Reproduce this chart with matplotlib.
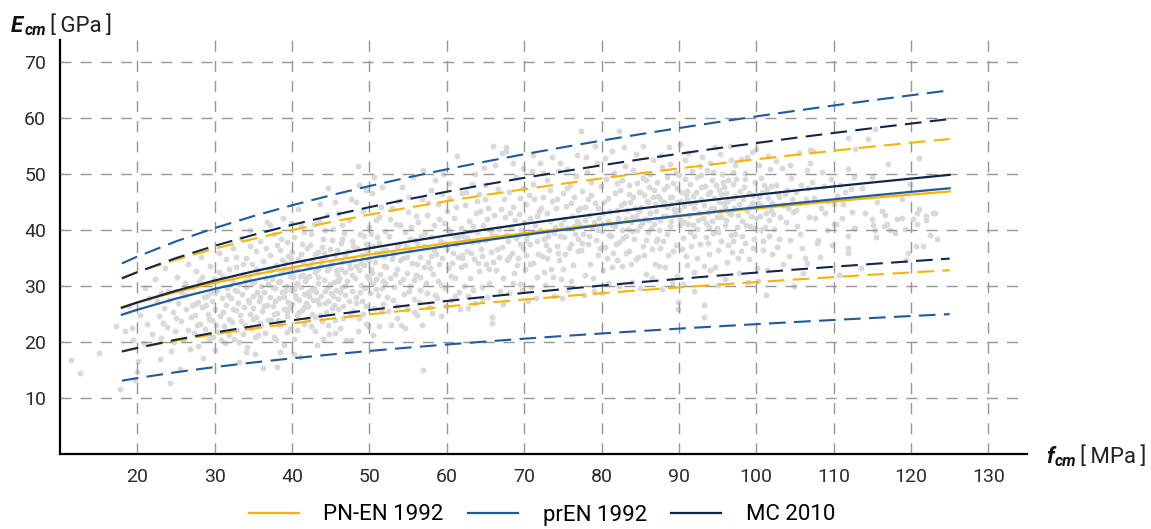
import numpy as np
import matplotlib.pyplot as plt

plt.rcParams['font.family'] = ['Roboto', 'DejaVu Sans']

# mean compressive strength at which the model curves are given [MPa]
fcm = [18, 20, 25, 30, 35, 40, 45, 50, 55, 60, 65, 70, 75, 80,
       85, 90, 95, 100, 105, 110, 115, 120, 125]

# PN-EN 1992: mean curve and scatter band [GPa]
pnen_mean = [26.24, 27.09, 28.96, 30.59, 32.04, 33.35, 34.54, 35.65, 36.69, 37.66, 38.58, 39.44,
             40.26, 41.05, 41.81, 42.53, 43.23, 43.90, 44.54, 45.17, 45.78, 46.36, 46.93]
pnen_upper = [31.49, 32.51, 34.75, 36.71, 38.45, 40.02, 41.45, 42.78, 44.03, 45.19, 46.30, 47.33,
              48.31, 49.26, 50.17, 51.04, 51.88, 52.68, 53.45, 54.20, 54.94, 55.63, 56.32]
pnen_lower = [18.37, 18.96, 20.27, 21.41, 22.43, 23.35, 24.18, 24.96, 25.68, 26.36, 27.01, 27.61,
              28.18, 28.74, 29.27, 29.77, 30.26, 30.73, 31.18, 31.62, 32.05, 32.45, 32.85]

# prEN 1992
pren_mean = [24.90, 25.79, 27.78, 29.52, 31.08, 32.49, 33.79, 35.00, 36.13, 37.19, 38.20, 39.15,
             40.06, 40.93, 41.77, 42.57, 43.35, 44.10, 44.82, 45.52, 46.20, 46.86, 47.50]
pren_upper = [34.07, 35.29, 38.01, 40.39, 42.52, 44.46, 46.24, 47.89, 49.44, 50.89, 52.27, 53.58,
              54.82, 56.02, 57.16, 58.26, 59.32, 60.34, 61.33, 62.29, 63.22, 64.12, 65.00]
pren_lower = [13.10, 13.57, 14.62, 15.54, 16.36, 17.10, 17.78, 18.42, 19.02, 19.57, 20.10, 20.61,
              21.09, 21.54, 21.98, 22.41, 22.81, 23.21, 23.59, 23.96, 24.31, 24.66, 25.00]

# MC 2010
mc_mean = [26.15, 27.09, 29.18, 31.01, 32.64, 34.13, 35.50, 36.77, 37.95, 39.07, 40.13, 41.13,
           42.08, 43.00, 43.88, 44.72, 45.54, 46.32, 47.08, 47.82, 48.53, 49.22, 49.90]
mc_upper = [31.38, 32.51, 35.02, 37.21, 39.17, 40.96, 42.60, 44.12, 45.54, 46.88, 48.16, 49.36,
            50.50, 51.60, 52.66, 53.66, 54.65, 55.58, 56.50, 57.38, 58.24, 59.06, 59.88]
mc_lower = [18.31, 18.96, 20.43, 21.71, 22.85, 23.89, 24.85, 25.74, 26.57, 27.35, 28.09, 28.79,
            29.46, 30.10, 30.72, 31.30, 31.88, 32.42, 32.96, 33.47, 33.97, 34.45, 34.93]

# test results (fcm [MPa], Ecm [GPa])
tests = [
    (11.4, 16.8), (12.6, 14.5), (15.0, 18.1), (17.2, 22.9), (17.8, 11.6),
    (18.4, 22.0), (18.9, 26.5), (19.3, 22.5), (19.7, 13.3), (20.1, 16.6), (20.0, 14.7), (20.4, 24.8),
    (20.8, 19.9), (21.2, 23.2), (21.5, 27.8), (21.9, 21.4), (22.3, 31.3), (22.5, 27.4), (21.0, 29.6),
    (19.5, 20.3),
    (22.9, 16.9), (23.6, 33.3), (24.2, 12.7), (22.8, 24.6), (23.1, 20.8), (23.4, 26.1), (23.8, 22.7),
    (24.0, 29.2), (24.4, 18.5), (24.6, 25.3), (24.9, 21.9), (25.1, 31.6), (25.3, 27.0), (25.5, 15.2),
    (25.7, 23.8), (25.9, 20.4), (26.1, 28.4), (26.3, 25.9), (26.5, 33.9), (26.6, 22.1), (26.8, 18.8),
    (27.0, 26.7), (25.0, 24.3), (24.1, 27.5), (23.3, 23.5), (26.2, 30.5), (25.6, 29.0), (24.7, 20.0),
    (26.9, 24.4), (23.0, 28.8),
    (27.2, 29.8), (27.3, 21.6), (27.5, 24.9), (27.6, 32.7), (27.8, 19.3), (27.9, 27.1), (28.1, 23.3),
    (28.2, 35.2), (28.4, 26.2), (28.5, 17.1), (28.7, 30.4), (28.8, 22.4), (29.0, 28.3), (29.1, 25.0),
    (29.3, 20.6), (29.4, 33.6), (29.6, 27.4), (29.7, 23.9), (29.9, 31.2), (30.0, 18.6), (30.1, 26.0),
    (30.3, 29.3), (30.4, 21.8), (30.6, 35.9), (30.7, 24.6), (30.9, 27.9), (31.0, 31.8), (31.2, 22.9),
    (31.3, 19.8), (31.5, 26.6), (31.6, 29.7), (31.8, 24.1), (31.9, 33.0), (28.0, 30.9), (28.6, 28.0),
    (29.2, 24.2), (29.8, 21.0), (30.5, 32.5), (31.1, 25.3), (31.7, 28.5), (27.4, 26.8), (28.3, 31.7),
    (29.5, 29.0), (30.2, 23.0), (30.8, 20.3), (31.4, 34.8), (27.7, 23.0), (28.9, 26.6), (30.0, 28.7),
    (31.9, 21.2),
    (32.1, 27.8), (32.2, 23.6), (32.3, 31.0), (32.4, 36.9), (32.5, 20.5), (32.6, 29.4), (32.7, 25.7),
    (32.8, 33.5), (32.9, 22.1), (33.0, 27.0), (33.1, 16.4), (33.2, 30.3), (33.3, 24.8), (33.4, 38.6),
    (33.5, 28.6), (33.6, 21.4), (33.7, 32.2), (33.8, 26.3), (33.9, 23.0), (34.0, 35.0), (34.1, 29.9),
    (34.2, 19.2), (34.3, 27.5), (34.4, 31.7), (34.5, 25.1), (34.6, 40.1), (34.7, 22.6), (34.8, 33.9),
    (34.9, 28.2), (35.0, 26.1), (35.1, 30.8), (35.2, 20.9), (35.3, 36.3), (35.4, 24.4), (35.5, 29.0),
    (35.6, 32.6), (35.7, 27.3), (35.8, 23.5), (35.9, 38.0), (36.0, 30.0), (36.1, 25.6), (36.2, 15.3),
    (36.3, 34.5), (36.4, 28.9), (36.5, 21.7), (36.6, 31.4), (36.7, 26.7), (36.8, 41.5), (36.9, 24.0),
    (37.0, 33.1), (32.4, 26.0), (32.9, 29.1), (33.4, 23.7), (33.9, 31.0), (34.4, 27.1), (34.9, 24.2),
    (35.4, 33.0), (35.9, 28.0), (36.4, 26.4), (36.9, 30.3), (32.7, 35.3), (33.6, 34.0), (34.5, 37.2),
    (35.6, 21.2), (36.6, 36.8), (34.1, 18.3), (35.2, 17.9), (33.2, 20.0), (36.0, 23.1), (34.8, 30.5),
    (37.1, 28.1), (37.2, 35.6), (37.3, 23.9), (37.4, 31.2), (37.5, 26.5), (37.6, 39.3), (37.7, 21.0),
    (37.8, 29.6), (37.9, 33.8), (38.0, 25.2), (38.1, 15.6), (38.2, 30.7), (38.3, 27.8), (38.4, 36.5),
    (38.5, 23.1), (38.6, 32.4), (38.7, 28.9), (38.8, 42.1), (38.9, 26.0), (39.0, 19.5), (39.1, 34.1),
    (39.2, 30.0), (39.3, 24.6), (39.4, 37.9), (39.5, 27.2), (39.6, 32.9), (39.7, 22.4), (39.8, 29.3),
    (39.9, 35.0), (40.0, 26.8), (40.1, 31.6), (40.2, 20.6), (40.3, 38.7), (40.4, 28.4), (40.5, 33.3),
    (40.6, 24.9), (40.7, 30.5), (40.8, 43.8), (40.9, 27.6), (41.0, 17.4), (41.1, 35.8), (41.2, 29.8),
    (41.3, 25.7), (41.4, 32.0), (41.5, 39.6), (41.6, 23.3), (41.7, 30.9), (41.8, 27.0), (41.9, 36.9),
    (42.0, 33.6), (37.3, 32.8), (37.8, 27.3), (38.2, 24.0), (38.7, 34.7), (39.1, 29.1), (39.6, 26.1),
    (40.0, 36.1), (40.5, 30.2), (40.9, 25.4), (41.4, 34.3), (41.8, 31.3), (37.5, 29.9), (38.0, 33.2),
    (38.5, 31.0), (39.0, 28.0), (39.5, 35.4), (40.0, 32.4), (40.5, 27.9), (41.0, 31.9), (41.5, 28.6),
    (37.2, 41.0), (38.6, 38.5), (39.8, 41.3), (41.2, 40.8), (37.9, 20.4), (39.3, 21.8), (40.7, 22.1),
    (41.9, 24.2), (38.4, 18.3), (40.2, 17.8), (39.7, 31.9), (38.9, 33.0), (40.3, 29.5), (41.6, 26.3),
    (37.6, 25.0), (38.1, 37.4), (39.4, 25.5), (40.8, 34.8), (41.3, 37.6), (42.0, 29.0),
    (42.1, 26.4), (42.2, 31.8), (42.3, 37.3), (42.4, 22.9), (42.5, 29.4), (42.6, 34.6), (42.7, 27.5),
    (42.8, 41.2), (42.9, 24.5), (43.0, 32.5), (43.1, 29.0), (43.2, 19.4), (43.3, 36.1), (43.4, 30.6),
    (43.5, 26.9), (43.6, 44.6), (43.7, 33.7), (43.8, 28.2), (43.9, 23.8), (44.0, 38.4), (44.1, 31.1),
    (44.2, 27.0), (44.3, 35.2), (44.4, 25.3), (44.5, 32.8), (44.6, 47.5), (44.7, 29.9), (44.8, 21.4),
    (44.9, 36.7), (45.0, 28.7), (45.1, 33.9), (45.2, 26.1), (45.3, 40.3), (45.4, 30.8), (45.5, 24.0),
    (45.6, 35.6), (45.7, 29.3), (45.8, 32.2), (45.9, 27.7), (46.0, 43.0), (46.1, 31.4), (46.2, 22.6),
    (46.3, 37.8), (46.4, 29.8), (46.5, 34.4), (46.6, 26.5), (46.7, 39.5), (46.8, 32.6), (46.9, 28.4),
    (47.0, 20.4), (42.3, 33.4), (42.8, 29.7), (43.3, 31.7), (43.8, 34.9), (44.3, 29.2), (44.8, 33.2),
    (45.3, 28.3), (45.8, 36.4), (46.3, 33.0), (46.8, 30.1), (42.5, 39.3), (43.5, 41.6), (44.5, 42.8),
    (45.5, 45.0), (46.5, 41.0), (42.6, 25.0), (43.6, 24.9), (44.6, 23.1), (45.6, 21.6), (46.6, 24.3),
    (42.9, 35.8), (43.9, 37.0), (44.9, 30.4), (45.9, 30.9), (46.9, 35.5), (42.2, 28.2), (43.2, 27.6),
    (44.2, 40.0), (45.2, 38.2), (46.2, 28.9), (44.0, 20.6), (45.0, 34.3), (46.0, 26.0), (43.4, 33.0),
    (44.7, 27.4), (45.7, 32.9), (46.4, 38.5), (43.0, 22.0), (44.1, 35.9), (45.4, 26.6),
    (47.1, 30.9), (47.2, 36.2), (47.3, 27.4), (47.4, 41.8), (47.5, 33.3), (47.6, 20.4), (47.7, 29.1),
    (47.8, 38.0), (47.9, 25.6), (48.0, 34.8), (48.1, 31.5), (48.2, 45.1), (48.3, 28.0), (48.4, 36.9),
    (48.5, 51.4), (48.6, 32.9), (48.7, 24.3), (48.8, 39.4), (48.9, 30.2), (49.0, 35.5), (49.1, 27.3),
    (49.2, 43.4), (49.3, 33.8), (49.4, 29.6), (49.5, 37.6), (49.6, 23.2), (49.7, 31.9), (49.8, 22.8),
    (49.9, 40.6), (50.0, 35.1), (50.1, 28.8), (50.2, 33.0), (50.3, 46.7), (50.4, 30.6), (50.5, 37.1),
    (50.6, 26.1), (50.7, 34.3), (50.8, 41.9), (50.9, 31.2), (51.0, 38.7), (51.1, 28.4), (51.2, 35.9),
    (51.3, 22.8), (51.4, 32.1), (51.5, 44.2), (51.6, 29.7), (51.7, 36.4), (51.8, 26.9), (51.9, 33.6),
    (52.0, 39.8), (47.3, 34.0), (47.8, 32.0), (48.3, 33.6), (48.8, 28.9), (49.3, 38.9), (49.8, 34.6),
    (50.3, 32.3), (50.8, 29.5), (51.3, 37.7), (51.8, 31.0), (47.6, 45.6), (48.6, 48.0), (49.6, 47.2),
    (50.6, 49.5), (51.6, 47.8), (47.5, 24.8), (48.5, 22.0), (49.5, 26.4), (50.5, 21.3), (51.5, 25.7),
    (47.9, 37.2), (48.9, 34.2), (49.9, 31.3), (50.9, 36.0), (51.9, 35.4), (48.2, 27.0), (49.2, 25.1),
    (50.2, 39.3), (51.2, 42.4), (49.7, 36.3),
    (52.1, 33.4), (52.3, 28.1), (52.5, 38.9), (52.7, 31.5), (52.8, 23.1), (52.9, 44.0), (53.1, 35.7),
    (53.2, 29.8), (53.4, 41.1), (53.5, 26.4), (53.6, 33.0), (53.8, 37.6), (53.9, 30.7), (54.1, 23.1),
    (54.2, 47.8), (54.3, 35.0), (54.5, 28.6), (54.6, 39.7), (54.8, 32.4), (54.9, 26.0), (55.0, 43.3),
    (55.2, 36.4), (55.3, 30.0), (55.5, 34.1), (55.6, 49.6), (55.7, 27.7), (55.9, 38.2), (56.0, 32.0),
    (56.2, 24.8), (56.3, 41.5), (56.5, 35.2), (56.6, 29.4), (56.8, 45.5), (56.9, 15.0), (56.9, 50.8),
    (57.0, 33.5), (52.2, 36.4), (52.6, 42.0), (53.0, 27.5), (53.3, 32.1), (53.7, 45.2), (54.0, 34.6),
    (54.4, 31.3), (54.7, 37.1), (55.1, 29.2), (55.4, 40.5), (55.8, 31.1), (56.1, 37.8), (56.4, 27.2),
    (56.7, 39.0), (52.4, 25.5), (53.5, 24.3), (54.6, 22.6), (55.7, 25.4), (56.8, 23.0), (52.9, 34.9),
    (54.0, 40.9), (55.1, 46.0), (56.2, 33.9), (53.6, 37.0), (54.9, 35.3), (56.0, 42.6), (52.0, 30.5),
    (55.3, 38.4), (56.6, 31.6),
    (57.1, 37.1), (57.3, 30.5), (57.4, 42.8), (57.6, 34.4), (57.7, 26.3), (57.9, 47.1), (58.0, 38.7),
    (58.2, 32.2), (58.3, 40.9), (58.5, 28.4), (58.6, 35.8), (58.8, 44.6), (58.9, 31.0), (59.1, 38.0),
    (59.2, 24.7), (59.4, 35.0), (59.5, 50.1), (59.7, 41.3), (59.8, 29.6), (60.0, 36.7), (60.1, 33.2),
    (60.3, 45.7), (60.4, 39.5), (60.6, 27.6), (60.7, 34.1), (60.9, 42.2), (61.0, 31.4), (61.2, 37.6),
    (61.3, 53.3), (61.5, 35.3), (61.6, 29.0), (61.8, 40.4), (61.9, 33.4), (62.0, 46.6), (57.2, 39.5),
    (57.8, 33.3), (58.4, 36.5), (59.0, 33.9), (59.6, 37.8), (60.2, 40.2), (60.8, 36.0), (61.4, 38.8),
    (62.0, 35.6), (57.5, 28.8), (58.1, 25.2), (58.7, 27.9), (59.3, 30.2), (59.9, 26.5), (60.5, 31.8),
    (61.1, 28.2), (61.7, 26.0), (57.6, 44.9), (58.5, 49.0), (59.4, 46.5), (60.3, 48.4), (61.2, 44.1),
    (59.0, 42.0), (60.0, 43.5), (61.0, 39.0), (58.0, 35.4),
    (62.1, 39.0), (62.3, 33.7), (62.4, 44.5), (62.6, 36.2), (62.7, 28.3), (62.9, 41.6), (63.0, 31.5),
    (63.2, 48.2), (63.3, 37.9), (63.5, 34.8), (63.6, 27.0), (63.8, 43.0), (63.9, 39.6), (64.1, 32.7),
    (64.2, 46.4), (64.4, 36.7), (64.5, 29.9), (64.7, 41.0), (64.8, 51.2), (65.0, 38.3), (65.1, 34.0),
    (65.3, 44.0), (65.4, 30.6), (65.6, 40.1), (65.7, 36.1), (65.9, 24.5), (65.9, 23.4), (66.0, 55.0),
    (66.1, 42.7), (66.3, 32.8), (66.4, 38.9), (66.6, 47.3), (66.7, 35.2), (66.9, 29.2), (67.0, 43.8),
    (62.2, 30.1), (62.8, 26.1), (63.4, 40.8), (64.0, 38.0), (64.6, 35.4), (65.2, 42.0), (65.8, 39.2),
    (66.5, 36.6), (62.5, 46.9), (63.7, 50.0), (64.9, 48.1), (66.2, 51.7), (62.0, 35.1), (63.1, 35.9),
    (64.3, 43.4), (65.5, 33.0), (66.8, 40.3), (63.4, 29.3), (64.6, 27.5), (65.2, 28.0), (62.6, 38.6),
    (63.9, 45.3), (65.0, 45.6), (66.0, 34.3), (64.0, 34.1),
    (67.1, 53.8), (67.2, 37.0), (67.3, 31.4), (67.5, 42.3), (67.6, 54.9), (67.6, 54.1), (67.7, 39.1),
    (67.8, 34.6), (68.0, 46.9), (68.1, 28.8), (68.3, 40.6), (68.4, 36.0), (68.6, 44.2), (68.7, 32.3),
    (68.9, 49.6), (69.0, 38.6), (69.2, 35.1), (69.3, 42.9), (69.5, 30.4), (69.6, 40.0), (69.8, 47.6),
    (69.9, 36.8), (70.1, 33.1), (70.2, 44.7), (70.4, 39.2), (70.5, 27.4), (70.7, 42.1), (70.8, 37.5),
    (71.0, 50.5), (71.1, 34.2), (71.3, 45.6), (71.4, 40.9), (71.6, 31.6), (71.7, 38.1), (71.9, 43.5),
    (72.0, 52.0), (67.4, 45.5), (68.2, 43.1), (68.8, 41.8), (69.4, 45.8), (70.0, 41.4), (70.6, 46.3),
    (71.2, 48.3), (71.8, 35.7), (67.9, 38.0), (68.5, 30.5), (69.1, 33.7), (69.7, 29.3), (70.3, 35.6),
    (70.9, 29.9), (71.5, 27.8), (67.3, 26.9), (68.6, 52.0), (69.9, 51.1), (71.1, 53.4), (70.2, 38.3),
    (69.4, 37.5), (68.0, 35.2), (71.6, 42.6), (70.8, 33.9),
    (72.1, 40.1), (72.3, 35.4), (72.4, 46.0), (72.6, 38.4), (72.7, 30.2), (72.9, 43.1), (73.0, 48.9),
    (73.2, 36.5), (73.3, 41.7), (73.5, 33.0), (73.6, 45.3), (73.8, 39.5), (73.9, 28.3), (74.1, 43.9),
    (74.2, 37.1), (74.4, 50.6), (74.5, 34.6), (74.6, 52.0), (74.7, 41.2), (74.8, 31.3), (75.0, 46.7),
    (75.1, 38.8), (75.3, 35.7), (75.4, 44.4), (75.6, 40.4), (75.7, 29.4), (75.9, 48.0), (76.0, 37.6),
    (76.2, 42.5), (76.3, 33.8), (76.5, 45.9), (76.6, 39.3), (76.8, 53.5), (76.9, 36.2), (77.0, 43.6),
    (72.2, 44.0), (72.8, 37.4), (73.4, 47.2), (74.0, 40.6), (74.6, 39.0), (75.2, 42.0), (75.8, 36.9),
    (76.4, 40.8), (77.0, 38.5), (72.5, 32.6), (73.7, 31.7), (74.9, 27.8), (76.1, 31.0), (72.4, 50.3),
    (73.6, 53.1), (75.5, 51.0), (76.7, 49.7), (73.1, 39.0), (74.3, 45.6), (75.0, 33.1), (76.0, 44.8),
    (72.9, 35.0), (74.4, 36.0), (75.6, 47.5), (76.8, 41.6),
    (77.1, 41.2), (77.3, 36.4), (77.4, 57.7), (77.5, 47.0), (77.6, 39.4), (77.8, 32.0), (77.9, 44.1),
    (78.1, 50.4), (78.2, 37.6), (78.4, 42.7), (78.5, 34.0), (78.7, 46.3), (78.8, 40.5), (79.0, 29.2),
    (79.1, 44.8), (79.3, 38.2), (79.4, 52.1), (79.6, 35.6), (79.7, 42.1), (79.9, 47.9), (80.0, 39.9),
    (80.2, 32.9), (80.3, 45.0), (80.5, 37.0), (80.6, 49.1), (80.8, 41.6), (80.9, 30.5), (81.1, 43.5),
    (81.2, 38.9), (81.4, 54.2), (81.5, 36.0), (81.7, 46.6), (81.8, 40.7), (82.0, 34.6), (77.2, 43.9),
    (77.8, 41.8), (78.4, 39.0), (79.0, 41.4), (79.6, 44.0), (80.2, 43.0), (80.8, 45.8), (81.4, 41.0),
    (82.0, 43.7), (77.7, 28.5), (78.9, 31.4), (80.1, 28.8), (81.3, 33.4), (78.0, 53.0), (79.2, 55.1),
    (80.4, 52.9), (81.6, 50.2), (77.5, 37.8), (78.6, 48.6), (79.8, 36.8), (81.0, 39.2), (82.0, 48.5),
    (79.5, 40.0), (80.7, 35.1), (78.3, 45.5), (81.9, 37.5),
    (82.1, 42.2), (82.2, 57.7), (82.3, 37.9), (82.4, 47.2), (82.6, 40.1), (82.7, 33.6), (82.9, 44.9),
    (83.0, 51.5), (83.2, 39.0), (83.3, 43.6), (83.5, 36.2), (83.6, 48.0), (83.8, 41.4), (83.9, 30.8),
    (84.1, 45.9), (84.2, 38.5), (84.4, 53.6), (84.5, 42.6), (84.7, 35.3), (84.8, 46.8), (85.0, 40.7),
    (85.1, 44.2), (85.3, 37.2), (85.4, 49.4), (85.6, 42.0), (85.7, 32.1), (85.9, 45.3), (86.0, 39.6),
    (86.2, 47.7), (86.3, 43.0), (86.5, 36.6), (86.6, 52.5), (86.8, 41.1), (86.9, 44.6), (87.0, 38.1),
    (82.5, 44.5), (83.1, 42.0), (83.7, 45.0), (84.3, 43.9), (84.9, 43.4), (85.5, 46.3), (86.1, 41.8),
    (86.7, 45.9), (82.8, 38.6), (83.4, 40.3), (84.0, 39.8), (84.6, 40.0), (85.2, 41.3), (85.8, 38.3),
    (86.4, 40.4), (82.3, 30.1), (83.8, 33.9), (85.0, 29.6), (86.5, 31.5), (82.9, 54.8), (84.1, 50.8),
    (85.3, 55.0), (86.3, 50.0), (82.6, 48.9), (83.5, 46.5), (84.6, 48.5), (85.8, 49.0), (86.8, 47.1),
    (83.2, 36.0), (84.4, 34.8), (85.5, 35.5), (86.9, 34.0), (84.0, 42.4), (85.0, 46.8), (86.0, 45.0),
    (87.1, 43.4), (87.2, 48.7), (87.4, 40.0), (87.5, 45.5), (87.6, 36.9), (87.8, 51.3), (87.9, 42.6),
    (88.1, 47.3), (88.2, 33.5), (88.4, 44.1), (88.5, 39.3), (88.7, 54.9), (88.8, 46.0), (89.0, 41.7),
    (89.1, 30.6), (89.3, 48.4), (89.4, 43.8), (89.6, 37.4), (89.7, 45.0), (89.9, 27.2), (89.9, 25.9),
    (90.0, 49.8), (90.2, 42.0), (90.3, 46.8), (90.5, 38.6), (90.6, 44.3), (90.8, 52.6), (90.9, 35.4),
    (91.1, 47.0), (91.2, 41.1), (91.4, 44.9), (91.5, 39.7), (91.7, 50.5), (91.8, 46.1), (91.9, 29.2),
    (92.0, 32.6), (87.3, 46.2), (87.9, 44.5), (88.5, 47.9), (89.1, 45.9), (89.7, 47.6), (90.3, 45.2),
    (90.9, 46.4), (91.5, 48.3), (87.6, 41.8), (88.3, 42.5), (88.9, 40.8), (89.5, 43.1), (90.1, 40.9),
    (90.7, 41.5), (91.3, 42.7), (91.9, 43.9), (87.4, 33.6), (88.6, 35.6), (89.8, 31.9), (91.0, 33.8),
    (87.7, 53.4), (88.9, 51.8), (90.1, 55.4), (91.2, 53.8), (87.2, 38.5), (88.0, 38.0), (89.2, 36.3),
    (90.4, 36.6), (91.6, 37.2), (88.4, 49.6), (89.6, 50.3), (90.8, 49.1), (91.8, 41.0), (87.8, 29.5),
    (90.5, 30.3), (89.0, 44.6), (88.1, 45.0), (90.0, 43.7), (91.1, 45.5),
    (92.1, 45.1), (92.3, 40.2), (92.4, 49.5), (92.6, 43.0), (92.7, 37.5), (92.9, 47.7), (93.0, 53.1),
    (93.2, 26.7), (93.2, 24.5), (93.3, 44.5), (93.5, 41.3), (93.6, 50.7), (93.8, 46.4), (93.9, 35.7),
    (94.0, 32.8), (94.1, 43.9), (94.3, 48.9), (94.4, 39.5), (94.6, 45.8), (94.7, 54.8), (94.9, 42.3),
    (95.0, 30.2), (95.2, 47.2), (95.3, 43.4), (95.5, 38.0), (95.6, 50.1), (95.8, 44.8), (95.9, 41.0),
    (96.1, 46.6), (96.2, 34.4), (96.4, 49.0), (96.5, 43.1), (96.7, 52.5), (96.8, 39.2), (97.0, 45.7),
    (92.2, 46.8), (92.8, 45.6), (93.4, 47.9), (94.0, 46.9), (94.6, 44.0), (95.2, 45.0), (95.8, 47.8),
    (96.4, 45.3), (97.0, 48.2), (92.5, 41.9), (93.1, 42.2), (93.7, 43.2), (94.3, 41.7), (94.9, 40.4),
    (95.5, 42.4), (96.1, 41.9), (96.7, 42.9), (92.4, 35.0), (93.7, 37.8), (95.0, 36.5), (96.3, 37.3),
    (92.7, 51.5), (94.0, 52.1), (95.3, 53.6), (96.6, 55.1), (93.3, 33.6), (94.7, 33.4), (96.0, 31.3),
    (92.0, 38.9), (93.9, 40.6), (95.1, 39.6), (96.9, 36.1), (92.9, 49.8), (94.4, 50.4), (95.7, 48.6),
    (97.0, 50.4), (93.5, 38.8), (94.8, 48.0), (96.0, 44.2), (95.4, 46.4),
    (97.1, 44.0), (97.3, 39.3), (97.4, 49.2), (97.6, 42.8), (97.7, 35.0), (97.9, 47.0), (98.0, 52.8),
    (98.2, 41.6), (98.3, 45.6), (98.5, 37.7), (98.6, 50.3), (98.8, 43.5), (98.9, 30.8), (99.1, 46.7),
    (99.2, 40.7), (99.4, 54.0), (99.5, 44.9), (99.7, 38.4), (99.8, 48.6), (100.0, 42.1), (100.1, 33.2),
    (100.3, 46.0), (100.4, 51.6), (100.6, 40.0), (100.7, 44.4), (100.9, 36.4), (101.0, 48.0),
    (101.2, 43.0), (101.3, 28.5), (101.5, 45.8), (101.6, 39.0), (101.8, 50.9), (101.9, 43.7),
    (102.0, 35.8), (97.2, 46.2), (97.8, 44.7), (98.4, 47.8), (99.0, 44.1), (99.6, 46.3), (100.2, 44.8),
    (100.8, 46.9), (101.4, 47.3), (97.5, 40.6), (98.1, 38.9), (98.7, 41.0), (99.3, 42.5), (99.9, 40.4),
    (100.5, 42.6), (101.1, 40.5), (101.7, 41.8), (97.8, 32.4), (99.0, 34.9), (100.2, 31.0),
    (101.4, 32.9), (97.3, 51.7), (98.8, 53.0), (100.0, 54.6), (101.5, 53.3), (98.0, 36.2), (99.6, 36.9),
    (100.9, 38.1), (97.0, 38.0), (98.5, 49.1), (100.6, 49.3), (101.9, 47.9),
    (102.1, 44.8), (102.3, 40.3), (102.5, 48.1), (102.7, 37.0), (102.9, 45.9), (103.1, 42.3),
    (103.3, 51.2), (103.5, 33.9), (103.7, 46.5), (103.9, 41.4), (104.1, 44.0), (104.3, 38.2),
    (104.5, 49.4), (104.7, 43.3), (104.9, 30.0), (105.1, 46.9), (105.3, 40.8), (105.5, 53.8),
    (105.7, 44.9), (105.9, 36.8), (106.1, 32.3), (106.3, 35.0), (106.5, 34.2), (106.5, 50.7),
    (106.7, 47.6), (106.9, 54.4), (102.2, 42.9), (102.8, 46.4), (103.4, 44.5), (104.0, 47.2),
    (104.6, 45.6), (105.2, 43.6), (105.8, 48.0), (106.4, 45.5), (103.0, 38.4), (104.2, 35.4),
    (105.6, 39.4), (106.8, 42.4), (102.6, 52.4), (104.4, 51.6),
    (107.4, 54.1), (107.0, 52.0), (107.2, 48.6), (107.5, 45.8), (107.8, 37.8), (108.0, 38.2),
    (108.2, 35.3), (108.4, 44.0), (108.7, 47.9), (109.1, 40.1), (109.3, 45.3), (109.6, 49.1),
    (110.0, 41.2), (110.3, 41.2), (110.0, 44.7), (110.5, 46.2), (110.8, 48.0), (111.1, 42.2),
    (111.2, 44.6), (111.8, 51.0), (111.8, 56.4), (111.9, 38.9), (111.9, 36.9), (111.9, 35.9),
    (107.6, 42.1), (108.9, 43.0), (109.8, 37.3), (110.7, 32.0), (111.5, 46.9), (108.5, 50.4),
    (112.3, 47.3), (112.4, 43.2), (112.6, 49.6), (112.6, 40.4), (112.8, 40.4), (112.8, 54.5),
    (113.7, 47.5), (114.1, 43.1), (114.5, 56.3), (114.9, 42.0), (115.0, 49.5), (115.1, 41.0),
    (115.3, 40.0), (115.4, 58.1), (115.5, 38.7), (115.6, 45.1), (116.2, 43.5), (116.5, 40.8),
    (116.6, 42.8), (116.9, 41.1), (117.0, 51.9), (113.5, 33.2),
    (117.3, 40.1), (118.0, 39.5), (118.2, 42.0), (118.8, 42.2), (118.8, 45.6), (119.2, 40.3),
    (119.3, 34.7), (119.6, 36.0), (120.2, 42.0), (120.6, 37.1), (120.8, 43.1), (120.8, 41.1),
    (121.0, 52.9), (121.1, 43.8), (121.6, 37.1), (121.9, 41.9), (122.0, 42.5), (122.4, 39.2),
    (122.8, 43.0), (123.1, 43.1), (123.4, 38.4), (119.9, 48.3),
]

models = [
    ('PN-EN 1992', '#f7b500', pnen_mean, pnen_upper, pnen_lower),
    ('prEN 1992', '#1f5a9c', pren_mean, pren_upper, pren_lower),
    ('MC 2010', '#10264a', mc_mean, mc_upper, mc_lower),
]

W, H = 1151, 529
fig = plt.figure(figsize=(W / 100, H / 100), dpi=100)
ax = fig.add_axes([60 / W, 1 - 454 / H, 967 / W, 414 / H])

test_f = np.array([p[0] for p in tests])
test_e = np.array([p[1] for p in tests])
ax.scatter(test_f, test_e, s=18, color='#d9d9d9', linewidths=0, zorder=1)

for name, color, mean, upper, lower in models:
    ax.plot(fcm, mean, color=color, lw=1.6, zorder=3, label=name)
    for band in (upper, lower):
        ax.plot(fcm, band, color=color, lw=1.5, dashes=(8, 4), zorder=3)

ax.set_xlim(10, 135)
ax.set_ylim(0, 74)
ax.set_xticks(range(20, 131, 10))
ax.set_yticks(range(10, 71, 10))
ax.grid(True, color='#969696', lw=1.0, dashes=(8, 6.5))
ax.set_axisbelow(False)
ax.tick_params(length=0, labelsize=14, labelcolor='#2b2b2b', pad=10)
for side in ('top', 'right'):
    ax.spines[side].set_visible(False)
for side in ('left', 'bottom'):
    ax.spines[side].set_linewidth(1.6)
    ax.spines[side].set_color('black')
    ax.spines[side].set_zorder(4)


def px(x, y):
    return x / W, 1 - y / H


# axis titles: bold italic symbol, subscript, unit
fig.text(*px(11, 32), 'E', fontsize=16, fontweight='bold', style='italic', color='#111111')
fig.text(*px(25, 35), 'cm', fontsize=11.5, fontweight='bold', style='italic', color='#111111')
fig.text(*px(50, 32), '[\u2009GPa\u2009]', fontsize=16, color='#222222')

fig.text(*px(1046, 463), 'f', fontsize=16, fontweight='bold', style='italic', color='#111111')
fig.text(*px(1055, 466), 'cm', fontsize=11.5, fontweight='bold', style='italic', color='#111111')
fig.text(*px(1080, 463), '[\u2009MPa\u2009]', fontsize=16, color='#222222')

fig.legend(loc='center', bbox_to_anchor=(px(542, 515)), ncol=3, frameon=False,
           fontsize=16, handlelength=2.25, handletextpad=1.1, columnspacing=1.1)

fig.savefig('out.png', dpi=100)
